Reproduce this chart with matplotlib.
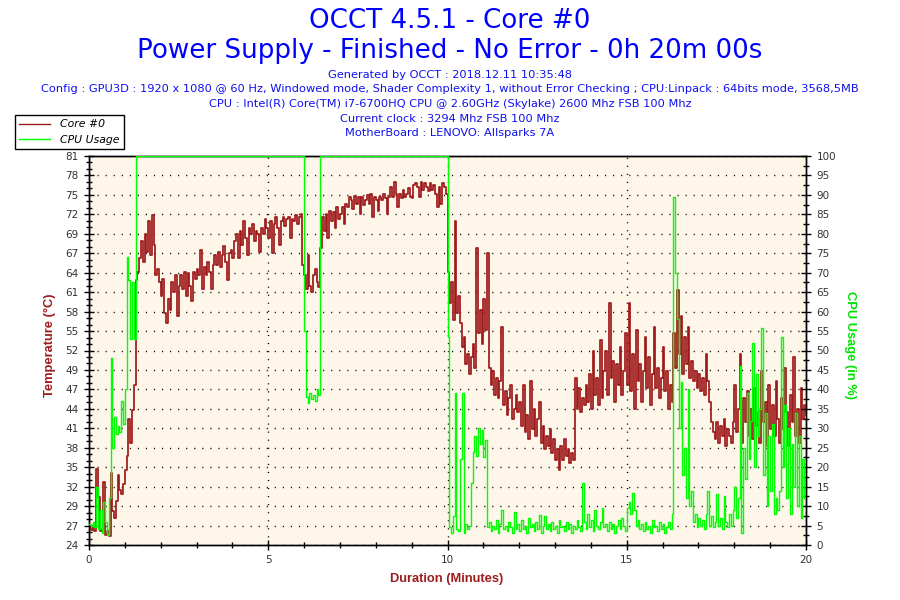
import numpy as np
import matplotlib
matplotlib.use("Agg")
import matplotlib.pyplot as plt
from matplotlib.lines import Line2D
from matplotlib.ticker import MultipleLocator, AutoMinorLocator

core_temp = [
    26.5, 26.2, 26.8, 26.0, 35.2, 31.0, 26.0, 26.3, 33.3, 25.5, 26.0, 25.3, 34.5, 29.0, 28.0, 30.5, 34.3, 32.0, 31.5, 33.0,
    35.0, 37.0, 42.5, 39.0, 43.8, 47.5, 62.8, 64.0, 66.0, 68.6, 65.5, 69.5, 67.0, 71.5, 66.5, 72.3, 68.0, 63.5, 64.5, 62.5,
    60.5, 63.0, 58.0, 56.5, 60.0, 58.5, 62.5, 61.0, 63.5, 57.5, 62.0, 63.5, 61.5, 64.0, 60.5, 63.8, 62.0, 59.8, 64.0, 63.0,
    64.5, 63.5, 67.2, 61.5, 64.8, 63.5, 65.5, 64.0, 61.5, 65.0, 66.5, 65.0, 67.0, 64.8, 66.5, 67.8, 65.5, 62.8, 66.8, 67.2,
    66.0, 68.5, 69.5, 66.0, 70.0, 68.0, 71.5, 69.0, 66.5, 70.5, 69.5, 71.0, 68.5, 70.0, 69.5, 67.0, 70.5, 69.5, 71.8, 70.5,
    69.0, 71.5, 66.8, 71.0, 72.0, 70.5, 68.0, 71.5, 72.0, 70.8, 71.8, 72.0, 69.0, 71.8, 71.5, 72.3, 71.0, 72.0, 72.5, 65.0,
    63.5, 61.5, 66.5, 62.0, 61.0, 63.5, 64.5, 62.5, 61.8, 67.5, 72.0, 70.0, 72.5, 69.0, 73.0, 71.5, 72.8, 70.5, 73.5, 71.8,
    72.5, 73.5, 71.0, 74.0, 73.5, 75.0, 74.5, 73.2, 75.2, 74.0, 75.0, 72.5, 75.0, 73.8, 74.5, 75.3, 74.0, 75.5, 72.0, 75.0,
    74.5, 73.0, 75.0, 74.5, 75.5, 74.8, 72.5, 75.0, 76.5, 75.0, 77.2, 75.5, 73.5, 75.5, 74.8, 76.0, 75.0, 75.5, 76.3, 75.0,
    74.8, 76.8, 77.0, 76.5, 75.0, 77.2, 76.0, 77.0, 76.5, 75.8, 77.0, 76.0, 76.8, 75.5, 73.5, 76.5, 74.0, 77.0, 76.5, 75.5,
    64.0, 59.5, 62.5, 57.0, 71.5, 58.0, 60.5, 56.5, 53.0, 54.5, 50.5, 52.0, 49.0, 51.5, 53.5, 50.0, 67.5, 55.0, 58.5, 53.5,
    60.0, 55.5, 66.8, 50.0, 47.5, 49.5, 46.0, 48.5, 45.5, 48.0, 56.0, 44.5, 46.5, 43.0, 45.5, 47.5, 42.5, 44.0, 46.0, 43.5,
    45.0, 41.5, 47.5, 40.5, 43.0, 39.5, 48.0, 41.0, 44.0, 40.0, 42.5, 45.0, 39.0, 41.5, 38.0, 40.0, 38.5, 41.0, 37.5, 39.5,
    36.5, 38.0, 35.0, 38.5, 36.5, 39.5, 37.0, 38.0, 36.0, 37.5, 36.5, 48.5, 44.0, 47.0, 43.5, 45.5, 44.5, 47.5, 45.0, 49.0,
    44.0, 52.5, 46.0, 48.5, 44.5, 54.0, 45.5, 49.5, 52.5, 46.0, 59.5, 48.5, 51.0, 45.0, 50.5, 47.5, 53.0, 46.0, 49.5, 55.0,
    47.5, 59.5, 46.5, 52.0, 44.0, 55.5, 48.0, 50.5, 45.0, 49.5, 54.5, 47.0, 51.5, 44.5, 49.0, 56.0, 47.0, 50.0, 45.5, 48.5,
    53.0, 46.5, 49.5, 44.0, 47.5, 45.0, 55.0, 50.0, 61.4, 52.0, 57.5, 49.0, 54.5, 50.5, 56.0, 48.5, 51.0, 48.0, 49.5, 47.0,
    49.0, 46.5, 48.5, 46.0, 52.0, 48.0, 45.0, 42.0, 40.5, 39.5, 42.0, 39.0, 41.5, 40.0, 42.5, 38.5, 41.0, 40.0, 39.0, 42.0,
    47.5, 40.5, 44.0, 52.0, 39.0, 45.5, 42.0, 46.5, 40.0, 44.0, 39.5, 47.0, 41.5, 43.5, 39.0, 49.5, 42.0, 45.0, 38.5, 47.5,
    41.0, 44.5, 40.0, 48.0, 42.5, 39.0, 45.5, 41.0, 50.0, 43.5, 38.5, 46.0, 42.0, 51.5, 40.0, 44.0, 39.0, 47.0, 42.5, 44.5,
    43.0,
]

cpu_usage = [
    5.5, 5.0, 6.0, 4.5, 15.0, 4.0, 9.0, 3.0, 11.0, 6.0, 2.5, 12.0, 48.0, 25.0, 33.0, 28.5, 30.5, 29.0, 37.0, 31.0,
    40.0, 74.0, 68.0, 53.0, 67.5, 53.0, 100, 100, 100, 100, 100, 100, 100, 100, 100, 100, 100, 100, 100, 100,
    100, 100, 100, 100, 100, 100, 100, 100, 100, 100, 100, 100, 100, 100, 100, 100, 100, 100, 100, 100,
    100, 100, 100, 100, 100, 100, 100, 100, 100, 100, 100, 100, 100, 100, 100, 100, 100, 100, 100, 100,
    100, 100, 100, 100, 100, 100, 100, 100, 100, 100, 100, 100, 100, 100, 100, 100, 100, 100, 100, 100,
    100, 100, 100, 100, 100, 100, 100, 100, 100, 100, 100, 100, 100, 100, 100, 100, 100, 100, 100, 100,
    55.0, 38.0, 36.5, 39.0, 37.5, 38.5, 37.0, 40.0, 38.5, 100, 100, 100, 100, 100, 100, 100, 100, 100, 100, 100,
    100, 100, 100, 100, 100, 100, 100, 100, 100, 100, 100, 100, 100, 100, 100, 100, 100, 100, 100, 100,
    100, 100, 100, 100, 100, 100, 100, 100, 100, 100, 100, 100, 100, 100, 100, 100, 100, 100, 100, 100,
    100, 100, 100, 100, 100, 100, 100, 100, 100, 100, 100, 100, 100, 100, 100, 100, 100, 100, 100, 100,
    53.5, 4.5, 3.0, 7.5, 39.0, 4.0, 3.5, 22.0, 39.0, 3.0, 5.5, 4.0, 5.0, 16.0, 24.0, 28.0, 23.0, 30.0, 26.0, 29.5,
    22.5, 27.0, 4.5, 6.0, 3.5, 5.0, 4.0, 6.5, 3.0, 5.5, 9.0, 4.0, 5.0, 3.5, 6.0, 4.5, 3.0, 8.5, 4.0, 5.5,
    3.5, 6.5, 4.0, 5.0, 3.0, 7.0, 4.5, 5.5, 3.5, 6.0, 4.0, 7.8, 3.0, 5.0, 7.5, 4.0, 5.5, 3.5, 6.0, 4.0,
    5.0, 3.0, 6.5, 4.5, 5.0, 3.5, 6.0, 4.0, 5.5, 3.0, 5.0, 4.0, 6.5, 4.5, 3.5, 16.0, 6.0, 4.0, 8.0, 4.5,
    6.5, 3.5, 9.0, 5.0, 4.0, 6.0, 9.5, 4.5, 5.5, 3.5, 6.0, 4.0, 5.5, 3.0, 5.0, 6.5, 4.0, 7.0, 5.0, 3.5,
    9.5, 11.0, 8.0, 13.4, 9.0, 5.0, 6.5, 4.0, 5.5, 3.5, 6.0, 4.0, 5.0, 3.0, 6.5, 4.5, 5.0, 3.5, 6.0, 4.0,
    5.5, 3.0, 4.5, 6.0, 4.0, 8.0, 89.5, 70.0, 58.0, 30.0, 42.0, 18.0, 25.0, 12.0, 40.0, 10.0, 14.0, 6.0, 8.0, 4.5,
    7.0, 5.0, 6.5, 4.0, 8.0, 14.0, 5.0, 7.5, 4.5, 6.0, 13.0, 5.0, 7.0, 4.0, 12.5, 6.0, 4.5, 8.0, 5.0, 9.0,
    15.0, 7.0, 12.0, 46.0, 3.0, 25.0, 17.0, 39.0, 22.0, 32.0, 52.0, 20.0, 44.0, 28.0, 35.0, 55.7, 18.0, 34.0, 10.0, 28.0,
    14.0, 31.0, 8.0, 12.0, 9.0, 14.0, 53.5, 20.0, 36.0, 12.0, 30.0, 8.0, 26.0, 15.0, 34.0, 10.0, 28.0, 7.0, 22.0, 12.0,
    19.0,
]

temp_tick_labels = ['24', '27', '29', '32', '35', '38', '41', '44', '47', '49', '52',
                    '55', '58', '61', '64', '67', '69', '72', '75', '78', '81']

title1 = "OCCT 4.5.1 - Core #0"
title2 = "Power Supply - Finished - No Error - 0h 20m 00s"
info_lines = [
    "Generated by OCCT : 2018.12.11 10:35:48",
    "Config : GPU3D : 1920 x 1080 @ 60 Hz, Windowed mode, Shader Complexity 1, without Error Checking ; CPU:Linpack : 64bits mode, 3568,5MB",
    "CPU : Intel(R) Core(TM) i7-6700HQ CPU @ 2.60GHz (Skylake) 2600 Mhz FSB 100 Mhz",
    "Current clock : 3294 Mhz FSB 100 Mhz",
    "MotherBoard : LENOVO: Allsparks 7A",
]

red = '#9e1b1b'
green = '#00ff00'
blue = '#0000ff'
dots = (0, (0.8, 5))

fig = plt.figure(figsize=(9, 6), dpi=100)
ax = fig.add_axes([89 / 900, 55 / 600, 717 / 900, 389 / 600])
ax.set_facecolor('#fdf6e9')

t_temp = np.arange(len(core_temp)) * 0.05
t_cpu = np.arange(len(cpu_usage)) * 0.05

ax.plot(t_temp, core_temp, color=red, lw=1.25, drawstyle='steps-post', zorder=3)
ax.set_xlim(0, 20)
ax.set_ylim(24, 81)
ax.set_yticks(np.linspace(24, 81, 21))
ax.set_yticklabels(temp_tick_labels)
ax.yaxis.set_minor_locator(AutoMinorLocator(3))
ax.xaxis.set_major_locator(MultipleLocator(5))
ax.xaxis.set_minor_locator(MultipleLocator(1))
ax.grid(which='major', color='black', linestyle=dots, lw=1.0)
ax.set_axisbelow(True)

ax2 = ax.twinx()
ax2.plot(t_cpu, cpu_usage, color=green, lw=1.0, drawstyle='steps-post', zorder=4)
ax2.set_ylim(0, 100)
ax2.yaxis.set_major_locator(MultipleLocator(5))
ax2.yaxis.set_minor_locator(MultipleLocator(2.5))

for a in (ax, ax2):
    a.tick_params(which='major', direction='inout', length=7, width=1,
                  labelsize=7.5, labelcolor='#333333', pad=4)
    a.tick_params(which='minor', direction='inout', length=4, width=1)
    for s in a.spines.values():
        s.set_color('black')
        s.set_linewidth(1)

# titles and info block
fig.text(0.5, 1 - 21 / 600, title1, ha='center', va='center', color=blue, fontsize=18.8)
fig.text(0.5, 1 - 51 / 600, title2, ha='center', va='center', color=blue, fontsize=18.8)
for i, line in enumerate(info_lines):
    fig.text(0.5, 1 - (75 + i * 14.5) / 600, line, ha='center', va='center',
             color='#1010ee', fontsize=8.2)

# axis labels
lab = dict(family=['Liberation Sans', 'DejaVu Sans'], fontweight='bold', fontsize=9.3)
fig.text(50 / 900, 1 - 345 / 600, "Temperature (°C)", rotation=90, ha='center', va='center', color=red, **lab)
fig.text(850 / 900, 1 - 345 / 600, "CPU Usage (in %)", rotation=270, ha='center', va='center', color='#00e000', **lab)
fig.text(447 / 900, 1 - 579 / 600, "Duration (Minutes)", ha='center', va='center', color=red, **lab)

handles = [Line2D([], [], color=red, lw=1), Line2D([], [], color=green, lw=1)]
leg = fig.legend(handles, ['Core #0', 'CPU Usage'], loc='upper left',
                 bbox_to_anchor=(15 / 900, 1 - 115 / 600), frameon=True, fancybox=False,
                 edgecolor='black', framealpha=1, prop={'style': 'italic', 'size': 7.8},
                 handlelength=2.8, borderpad=0.4, labelspacing=0.5, handletextpad=1.0,
                 borderaxespad=0)
leg.get_frame().set_linewidth(1)

fig.savefig('out.png', dpi=100)
